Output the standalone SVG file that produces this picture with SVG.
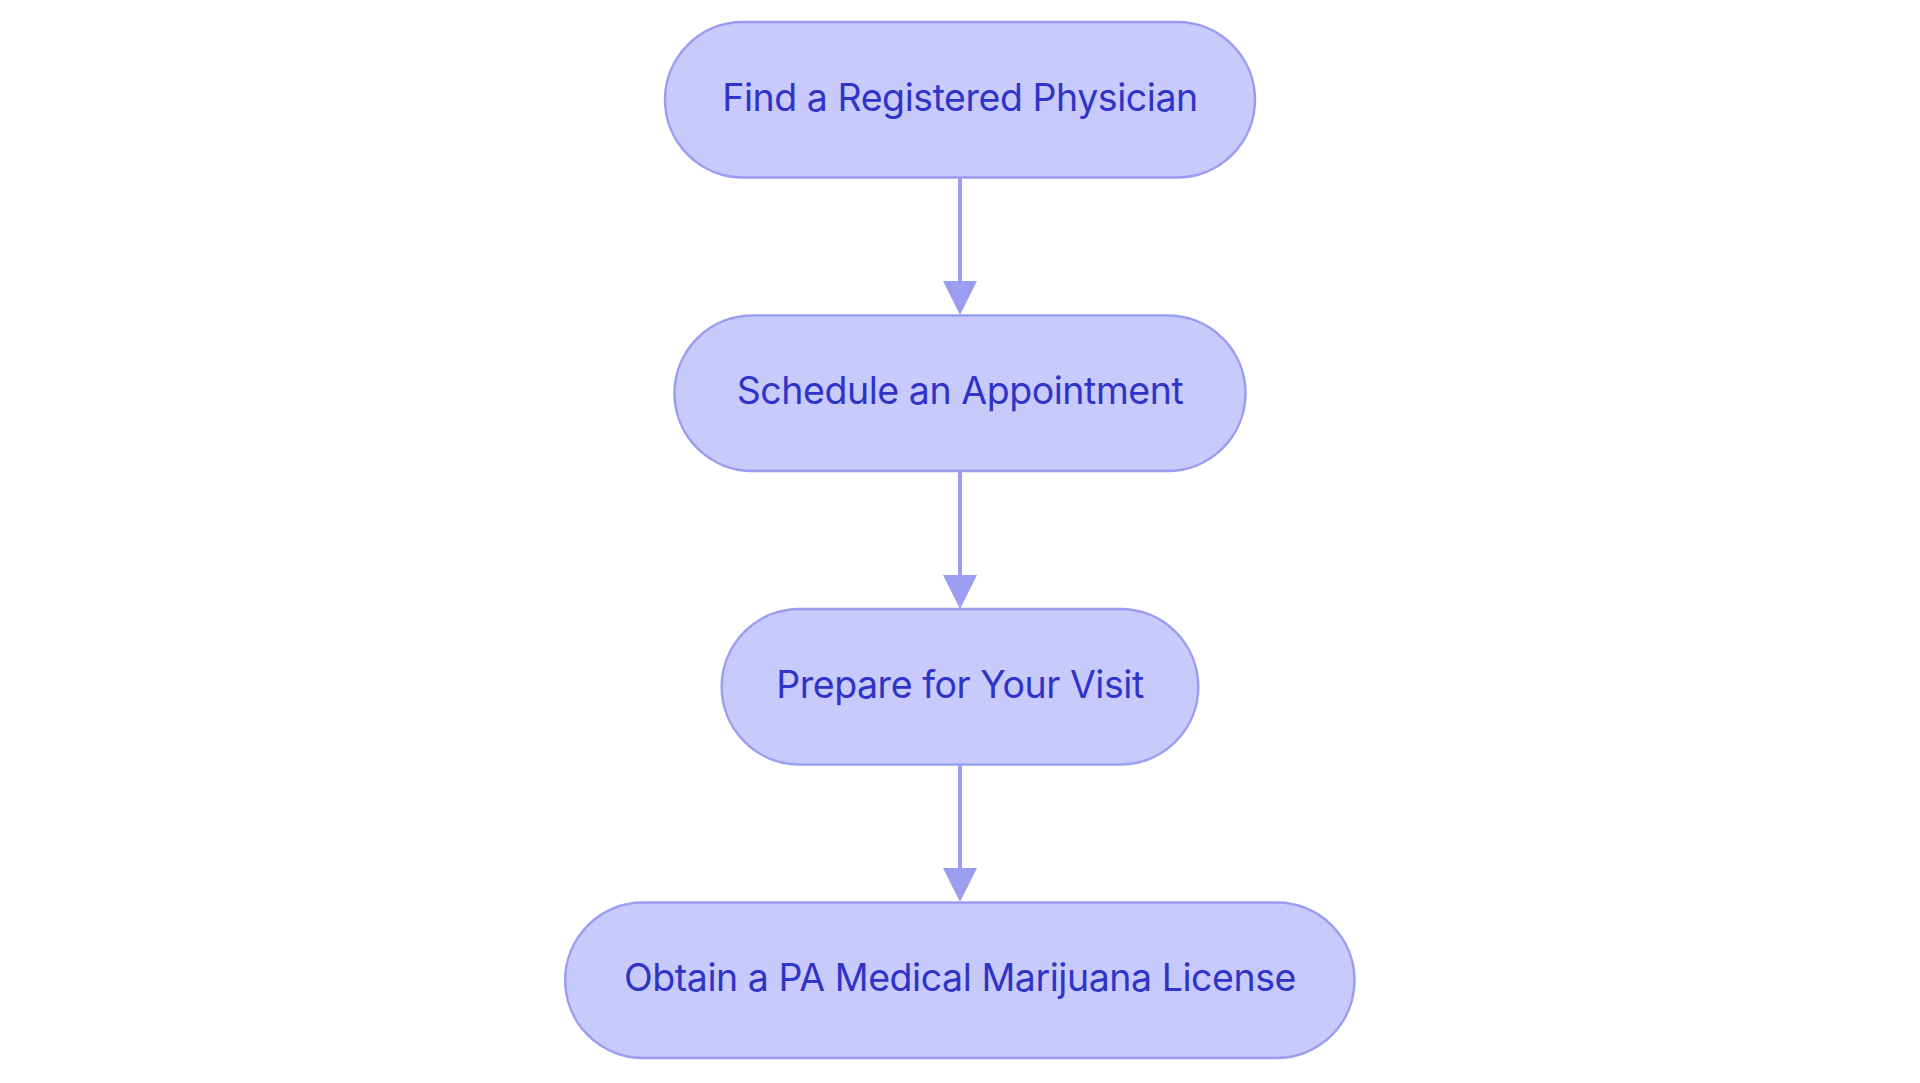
<svg xmlns="http://www.w3.org/2000/svg" width="1920" height="1083" viewBox="0 0 1920 1083">
<style>
.node rect{fill:#C9CAFC;stroke:#9A9DF0;stroke-width:2.5}
.node text{font-family:Inter,"Noto Sans","Liberation Sans",sans-serif;font-size:37.5px;letter-spacing:-0.45px;fill:#3033C8;text-anchor:middle}
.edge line{stroke:#9A9DF0;stroke-width:4}
.edge polygon{fill:#9A9DF0}
</style>
<rect width="1920" height="1083" fill="#FFFFFF"/>
<g id="edges" class="edge">
<line x1="960" y1="177" x2="960" y2="284"/>
<polygon points="943,281 977,281 960,315"/>
<line x1="960" y1="471" x2="960" y2="578"/>
<polygon points="943,575 977,575 960,609"/>
<line x1="960" y1="764" x2="960" y2="871"/>
<polygon points="943,868 977,868 960,902"/>
</g>
<g id="node1" class="node">
<rect x="665" y="22" width="590" height="155.5" rx="77.75" ry="77.75"/>
<text x="960" y="110.7">Find a Registered Physician</text>
</g>
<g id="node2" class="node">
<rect x="674.5" y="315.5" width="571" height="155.5" rx="77.75" ry="77.75"/>
<text x="960" y="404.2">Schedule an Appointment</text>
</g>
<g id="node3" class="node">
<rect x="721.7" y="609" width="476.6" height="155.5" rx="77.75" ry="77.75"/>
<text x="960" y="697.7">Prepare for Your Visit</text>
</g>
<g id="node4" class="node">
<rect x="565.2" y="902.5" width="789.3" height="155.5" rx="77.75" ry="77.75"/>
<text x="960" y="991.2">Obtain a PA Medical Marijuana License</text>
</g>
</svg>
